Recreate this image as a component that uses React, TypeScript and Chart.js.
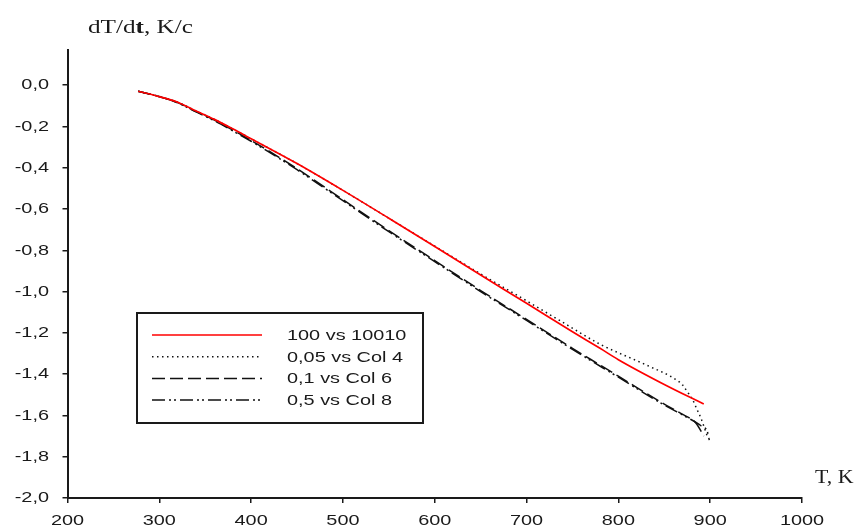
import React, { useEffect, useRef } from "react";
import { Chart, registerables } from "chart.js";

Chart.register(...registerables);

// Cooling rate dT/dt versus temperature T for four runs
const seriesLabels = ["100 vs 10010", "0,05 vs Col 4", "0,1 vs Col 6", "0,5 vs Col 8"];

const tempRun1 = [277, 300, 320, 340, 360, 380, 400, 450, 500, 550, 600, 650, 700, 750, 780, 800, 850, 893];
const rateRun1 = [-0.03, -0.056, -0.083, -0.125, -0.166, -0.212, -0.26, -0.38, -0.51, -0.645, -0.782, -0.92, -1.057, -1.195, -1.275, -1.33, -1.45, -1.545];

const tempRun2 = [277, 300, 320, 340, 360, 380, 400, 450, 500, 550, 600, 650, 700, 736, 780, 830, 864, 870, 875, 881, 885, 890, 897];
const rateRun2 = [-0.03, -0.056, -0.083, -0.125, -0.166, -0.212, -0.26, -0.38, -0.51, -0.645, -0.78, -0.915, -1.045, -1.14, -1.255, -1.355, -1.43, -1.453, -1.485, -1.525, -1.565, -1.614, -1.703];

const tempRun3 = [277, 300, 320, 340, 360, 380, 400, 450, 500, 550, 600, 650, 700, 750, 780, 800, 850, 868, 885, 893];
const rateRun3 = [-0.03, -0.056, -0.085, -0.128, -0.17, -0.218, -0.268, -0.405, -0.555, -0.705, -0.85, -0.995, -1.135, -1.275, -1.356, -1.41, -1.545, -1.59, -1.64, -1.7];

const tempRun4 = [277, 300, 320, 340, 360, 380, 400, 450, 500, 550, 600, 650, 700, 750, 800, 850, 875, 890, 897, 899];
const rateRun4 = [-0.03, -0.055, -0.086, -0.13, -0.173, -0.222, -0.272, -0.41, -0.56, -0.71, -0.855, -1.0, -1.14, -1.28, -1.415, -1.55, -1.61, -1.65, -1.68, -1.72];

const xTicks = [200, 300, 400, 500, 600, 700, 800, 900, 1000];
const yTicks = [0, -0.2, -0.4, -0.6, -0.8, -1.0, -1.2, -1.4, -1.6, -1.8, -2.0];

const yTitle = ["dT/d", "t", ", K/c"];
const xTitle = "T, K";

const toPoints = (xs: number[], ys: number[]) => xs.map((x, i) => ({ x, y: ys[i] }));
const commaNum = (v: number) => v.toFixed(1).replace(".", ",");

const INK = "#1a1a1a";
const SANS = '"Liberation Sans", Arial, sans-serif';
const SERIF = '"Liberation Serif", "Times New Roman", serif';
const STRETCH = 1.42;

// text drawn with a horizontal stretch; align refers to the stretched box
function wideText(
  ctx: CanvasRenderingContext2D,
  text: string,
  x: number,
  y: number,
  align: "left" | "center" | "right",
  sx: number = STRETCH
) {
  const w = ctx.measureText(text).width * sx;
  const left = align === "left" ? x : align === "center" ? x - w / 2 : x - w;
  ctx.save();
  ctx.translate(left, y);
  ctx.scale(sx, 1);
  ctx.textAlign = "left";
  ctx.fillText(text, 0, 0);
  ctx.restore();
}

// tick labels, boxed legend and the two axis captions
const annotatePlugin = {
  id: "annotate",
  afterDraw(chart: any) {
    const ctx = chart.ctx as CanvasRenderingContext2D;
    const xs = chart.scales.x;
    const ys = chart.scales.y;
    ctx.save();
    ctx.fillStyle = INK;
    ctx.font = `14px ${SANS}`;
    ctx.textBaseline = "middle";

    yTicks.forEach((v) => wideText(ctx, commaNum(v), 49, ys.getPixelForValue(v) + 0.5, "right"));
    xTicks.forEach((v) => wideText(ctx, String(v), xs.getPixelForValue(v), 521, "center"));

    ctx.strokeStyle = INK;
    ctx.lineWidth = 2;
    ctx.setLineDash([]);
    ctx.strokeRect(137, 313, 286, 110);

    chart.data.datasets.forEach((ds: any, i: number) => {
      const y = 335 + i * 21.7;
      ctx.strokeStyle = ds.borderColor;
      ctx.lineWidth = ds.borderWidth;
      ctx.setLineDash(ds.borderDash || []);
      ctx.beginPath();
      ctx.moveTo(152, y);
      ctx.lineTo(262, y);
      ctx.stroke();
      ctx.setLineDash([]);
      ctx.fillStyle = INK;
      ctx.font = `14px ${SANS}`;
      ctx.textBaseline = "middle";
      wideText(ctx, ds.label, 287, y + 1, "left");
    });

    ctx.fillStyle = INK;
    ctx.textBaseline = "alphabetic";
    let x = 88;
    yTitle.forEach((part, i) => {
      ctx.font = `${i === 1 ? "bold " : ""}18px ${SERIF}`;
      wideText(ctx, part, x, 33, "left", 1.4);
      x += ctx.measureText(part).width * 1.4;
    });

    ctx.font = `19px ${SERIF}`;
    wideText(ctx, xTitle, 815, 483, "left", 1.15);

    ctx.restore();
  },
};

export default function App() {
  const canvasRef = useRef<HTMLCanvasElement | null>(null);

  useEffect(() => {
    const canvas = canvasRef.current;
    if (!canvas) return;

    const axisGrid = {
      drawOnChartArea: false,
      drawTicks: true,
      tickLength: 5,
      color: INK,
      lineWidth: 1.5,
    };

    const curve = {
      pointRadius: 0,
      cubicInterpolationMode: "monotone",
    };

    const chart = new Chart(canvas, {
      type: "line",
      data: {
        datasets: [
          {
            ...curve,
            label: seriesLabels[0],
            data: toPoints(tempRun1, rateRun1),
            borderColor: "#ff0000",
            borderWidth: 1.7,
            borderDash: [],
          },
          {
            ...curve,
            label: seriesLabels[1],
            data: toPoints(tempRun2, rateRun2),
            borderColor: "#111111",
            borderWidth: 1.5,
            borderDash: [1.5, 3.5],
          },
          {
            ...curve,
            label: seriesLabels[2],
            data: toPoints(tempRun3, rateRun3),
            borderColor: "#111111",
            borderWidth: 1.5,
            borderDash: [13, 5],
          },
          {
            ...curve,
            label: seriesLabels[3],
            data: toPoints(tempRun4, rateRun4),
            borderColor: "#111111",
            borderWidth: 1.5,
            borderDash: [13, 4, 2, 3, 2, 4],
          },
        ] as any,
      },
      options: {
        animation: false,
        responsive: false,
        maintainAspectRatio: false,
        devicePixelRatio: 1,
        layout: { padding: { left: 0, right: 58, top: 50, bottom: 0 } },
        plugins: {
          legend: { display: false },
          tooltip: { enabled: false },
        },
        scales: {
          x: {
            type: "linear",
            min: 200,
            max: 1000,
            afterBuildTicks: (scale: any) => {
              scale.ticks = xTicks.map((v) => ({ value: v }));
            },
            afterFit: (scale: any) => {
              scale.height = 33;
            },
            ticks: { display: false, autoSkip: false },
            grid: axisGrid,
            border: { display: true, color: INK, width: 2 },
          },
          y: {
            type: "linear",
            min: -2,
            max: 0.17,
            afterBuildTicks: (scale: any) => {
              scale.ticks = yTicks.map((v) => ({ value: v }));
            },
            afterFit: (scale: any) => {
              scale.width = 67.5;
            },
            ticks: { display: false, autoSkip: false },
            grid: axisGrid,
            border: { display: true, color: INK, width: 2 },
          },
        },
      } as any,
      plugins: [annotatePlugin],
    });

    return () => chart.destroy();
  }, []);

  return (
    <div style={{ position: "absolute", left: 0, top: 0, width: 860, height: 531, background: "#fff" }}>
      <canvas ref={canvasRef} width={860} height={531} style={{ width: 860, height: 531, display: "block" }} />
    </div>
  );
}
